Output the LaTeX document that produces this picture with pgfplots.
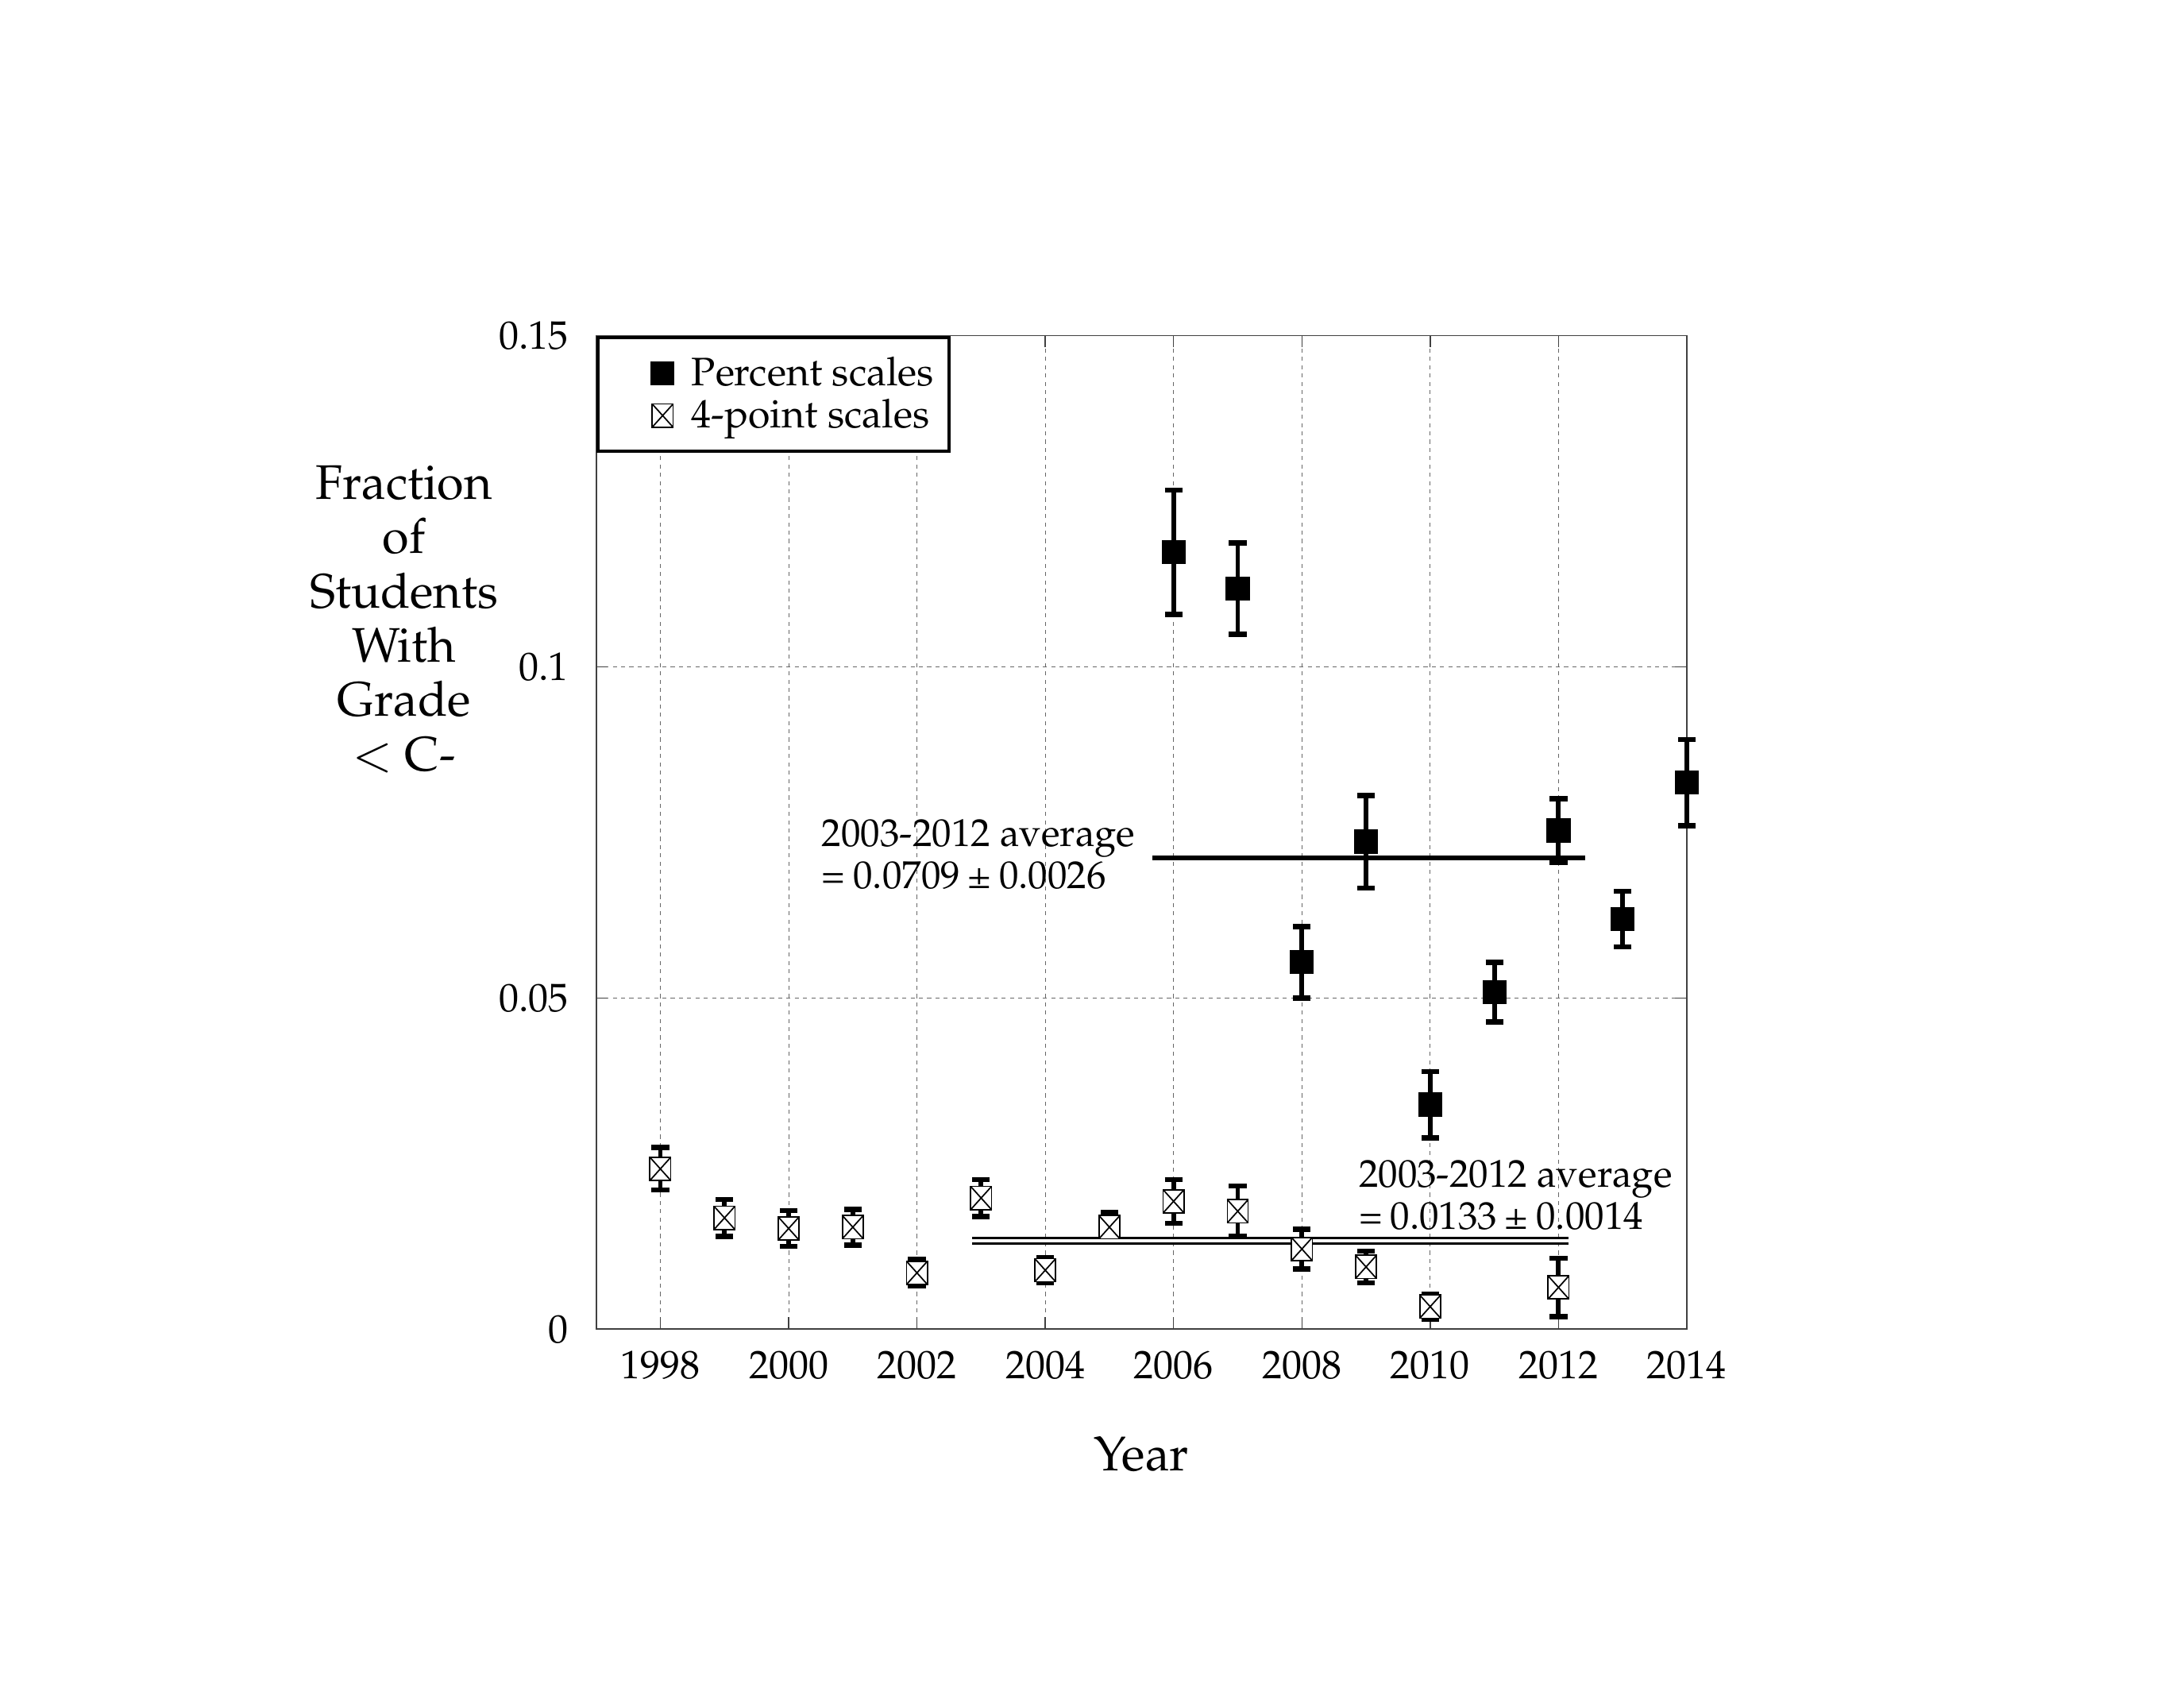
\documentclass[border=0pt]{standalone}
\usepackage[T1]{fontenc}
\usepackage{mathpazo}
\usepackage{pgfplots}
\pgfplotsset{compat=1.18}
\pgfdeclareplotmark{boxx}{%
  \pgfpathrectangle{\pgfqpoint{-0.9\pgfplotmarksize}{-\pgfplotmarksize}}{\pgfqpoint{1.8\pgfplotmarksize}{2\pgfplotmarksize}}%
  \pgfusepathqfillstroke
  \pgfpathmoveto{\pgfqpoint{-0.9\pgfplotmarksize}{-\pgfplotmarksize}}%
  \pgfpathlineto{\pgfqpoint{0.9\pgfplotmarksize}{\pgfplotmarksize}}%
  \pgfpathmoveto{\pgfqpoint{-0.9\pgfplotmarksize}{\pgfplotmarksize}}%
  \pgfpathlineto{\pgfqpoint{0.9\pgfplotmarksize}{-\pgfplotmarksize}}%
  \pgfusepathqstroke}
\pgfplotsset{myleg/.style={legend image code/.code={\path[draw=none,fill=none] (0pt,0pt) rectangle (28.5pt,0.1pt); \draw[##1] plot coordinates {(19pt,0pt)};}}}
\begin{document}
\begin{tikzpicture}
\path (-216.2pt,-130.1pt) rectangle (575.8pt,481.9pt);
\begin{axis}[
  at={(0,0)}, anchor=south west,
  scale only axis, width=395.5pt, height=360.2pt,
  xmin=1997, xmax=2014, ymin=0, ymax=0.15,
  xtick={1998,2000,...,2014},
  xticklabels={1998,2000,2002,2004,2006,2008,2010,2012,2014},
  ytick={0,0.05,0.1,0.15}, yticklabels={0,0.05,0.1,0.15},
  xticklabel style={font=\Large, yshift=-4.5pt},
  yticklabel style={font=\Large, xshift=-6.5pt},
  grid=major,
  major grid style={black!60, line width=0.3pt, dash pattern=on 1.5pt off 1.5pt},
  axis line style={line width=0.5pt, black!75},
  tick style={black!75, line width=0.4pt},
  clip=false,
  legend style={at={(0,1)}, anchor=north west, draw=black, line width=1.2pt,
    fill=white, font=\Large, inner xsep=4.5pt, inner ysep=6pt, row sep=1.5pt,
    nodes={inner sep=1pt}, cells={anchor=west}},
]
\addplot[black, only marks, mark=square*, mark size=4.2pt,
  mark options={solid, fill=black, line width=0.3pt}, myleg,
  error bars/.cd, y dir=both, y explicit,
  error bar style={line width=1.7pt, black},
  error mark options={rotate=90, mark size=3.2pt, line width=1.9pt, black}]
coordinates {
(2006,0.1173) +- (0,0.0094)
(2007,0.1118) +- (0,0.0069)
(2008,0.0554) +- (0,0.0054)
(2009,0.0736) +- (0,0.0070)
(2010,0.0339) +- (0,0.0050)
(2011,0.0509) +- (0,0.0045)
(2012,0.0753) +- (0,0.0048)
(2013,0.0619) +- (0,0.0042)
(2014,0.0825) +- (0,0.0065)
};
\addlegendentry{Percent scales}
\addplot[black, only marks, mark=boxx, mark size=4.2pt,
  mark options={solid, fill=white, draw=black, line width=0.5pt}, myleg,
  error bars/.cd, y dir=both, y explicit,
  error bar style={line width=1.7pt, black},
  error mark options={rotate=90, mark size=3.2pt, line width=1.9pt, black}]
coordinates {
(1998,0.0242) +- (0,0.0032)
(1999,0.0168) +- (0,0.0028)
(2000,0.0152) +- (0,0.0027)
(2001,0.0154) +- (0,0.0027)
(2002,0.0085) +- (0,0.0020)
(2003,0.0198) +- (0,0.0028)
(2004,0.0089) +- (0,0.0019)
(2005,0.0154) +- (0,0.0022)
(2006,0.0193) +- (0,0.0033)
(2007,0.0178) +- (0,0.0038)
(2008,0.0121) +- (0,0.0030)
(2009,0.0094) +- (0,0.0024)
(2010,0.0034) +- (0,0.0019)
(2012,0.0063) +- (0,0.0044)
};
\addlegendentry{4-point scales}
\addplot[black, line width=1.7pt, forget plot] coordinates {(2005.67,0.0712) (2012.42,0.0712)};
\addplot[black, double=white, double distance=1.1pt, line width=0.8pt, forget plot] coordinates {(2002.86,0.01336) (2012.16,0.01336)};
\node[anchor=west, align=left, inner sep=0pt, font=\fontsize{14.1}{15.2}\selectfont]
  at (axis cs:2000.51,0.0717) {2003-2012 average\\=\hspace{0.2em}0.0709\hspace{0.2em}\textpm\hspace{0.2em}0.0026};
\node[anchor=west, align=left, inner sep=0pt, font=\fontsize{14.1}{15.2}\selectfont]
  at (axis cs:2008.88,0.0202) {2003-2012 average\\=\hspace{0.2em}0.0133\hspace{0.2em}\textpm\hspace{0.2em}0.0014};
\node[align=center, font=\fontsize{17.6}{19.7}\selectfont]
  at (rel axis cs:0,0.7147) [xshift=-69.7pt] {Fraction\\of\\Students\\With\\Grade\\$<$ C-};
\node[font=\fontsize{17.6}{20}\selectfont] at (rel axis cs:0.5,0) [yshift=-45.5pt] {Year};
\end{axis}
\end{tikzpicture}
\end{document}
